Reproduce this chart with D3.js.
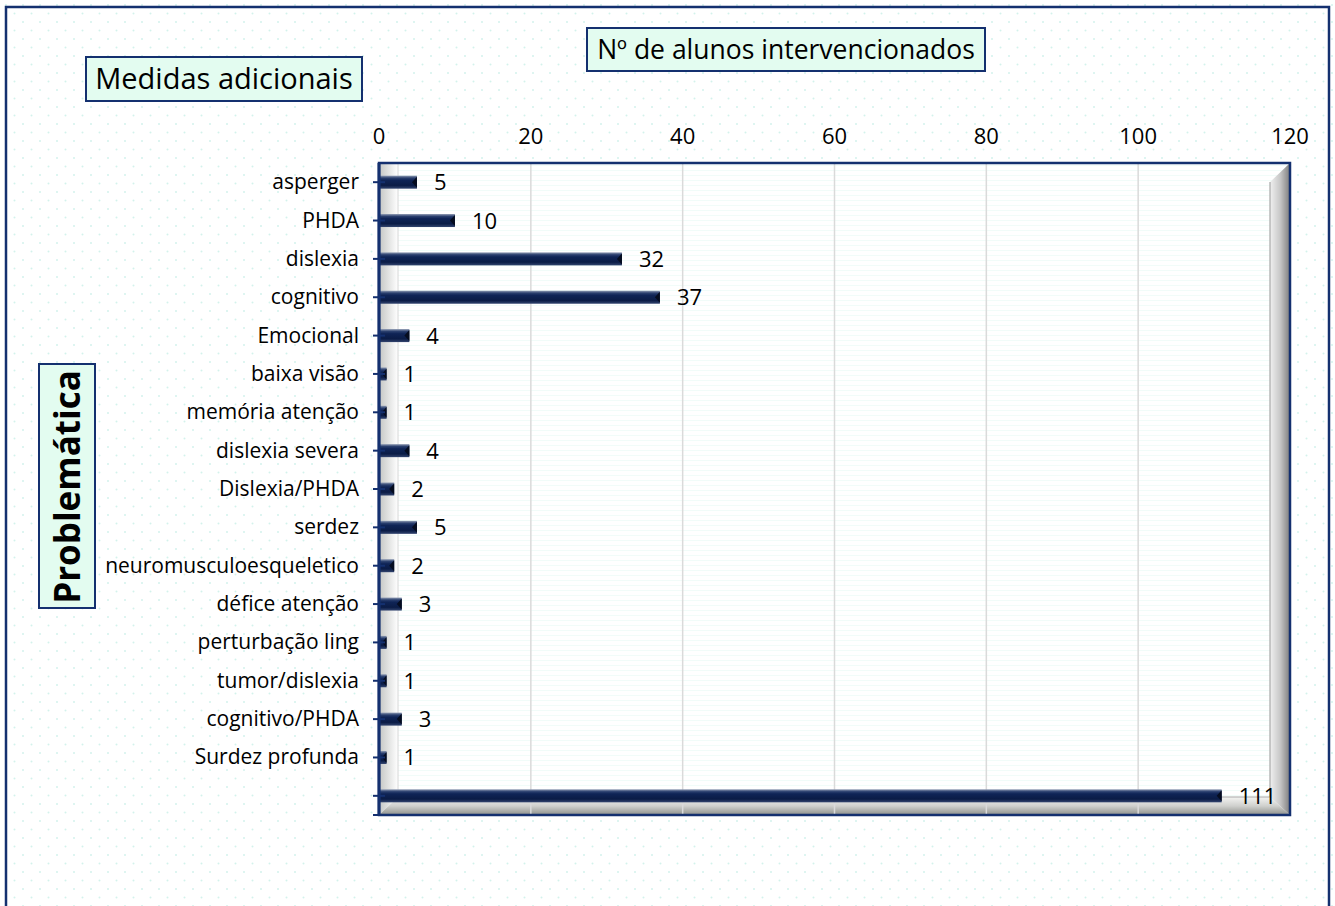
<!DOCTYPE html>
<html>
<head>
<meta charset="utf-8">
<script src="https://cdn.jsdelivr.net/npm/d3@7"></script>
<style>
  html, body { margin: 0; padding: 0; background: #fff; }
  svg { display: block; }
  text { font-family: "Open Sans", Lato, sans-serif; fill: #000; }
</style>
</head>
<body>
<svg id="chart" width="1335" height="906"></svg>
<script>
// Problem types and number of students receiving additional measures
const categories = [
  "asperger", "PHDA", "dislexia", "cognitivo", "Emocional", "baixa visão",
  "memória atenção", "dislexia severa", "Dislexia/PHDA", "serdez",
  "neuromusculoesqueletico", "défice atenção", "perturbação ling",
  "tumor/dislexia", "cognitivo/PHDA", "Surdez profunda", ""
];
const values = [5, 10, 32, 37, 4, 1, 1, 4, 2, 5, 2, 3, 1, 1, 3, 1, 111];
const xTicks = [0, 20, 40, 60, 80, 100, 120];

const chartTitle = "Nº de alunos intervencionados";
const subTitle = "Medidas adicionais";
const axisTitle = "Problemática";

const svg = d3.select("#chart");
const W = 1335, H = 906;
const navy = "#14306f";

// plot frame and 3-D depth
const plot = { left: 379, top: 163, right: 1290, bottom: 815 };
const depthX = 19, depthY = 18;

const x = d3.scaleLinear().domain([0, 120]).range([plot.left, plot.right]);
const y = d3.scaleBand().domain(d3.range(categories.length))
  .range([plot.top, plot.bottom]).paddingInner(0).paddingOuter(0);
const cy = i => y(i) + y.bandwidth() / 2;
const barH = 13;

const defs = svg.append("defs");

// staggered dot background
const dots = defs.append("pattern").attr("id", "dots")
  .attr("patternUnits", "userSpaceOnUse").attr("width", 17).attr("height", 17);
dots.append("circle").attr("cx", 6).attr("cy", 5).attr("r", 1).attr("fill", "#d3f2ec");
dots.append("circle").attr("cx", 14.5).attr("cy", 13.5).attr("r", 1).attr("fill", "#d3f2ec");

// faint horizontal lines inside the plot
const stripes = defs.append("pattern").attr("id", "stripes")
  .attr("patternUnits", "userSpaceOnUse").attr("width", 8).attr("height", 5);
stripes.append("rect").attr("width", 8).attr("height", 1).attr("fill", "#f1fcf9");

function linGrad(id, x1, y1, x2, y2, stops) {
  const g = defs.append("linearGradient").attr("id", id)
    .attr("x1", x1).attr("y1", y1).attr("x2", x2).attr("y2", y2);
  stops.forEach(([o, c]) => g.append("stop").attr("offset", o).attr("stop-color", c));
}
linGrad("barGrad", 0, 0, 0, 1, [
  [0, "#8f9bb3"], [0.18, "#2a3f6e"], [0.35, "#0f2456"], [0.75, "#0b1c46"], [1, "#33456f"]
]);
linGrad("leftWall", 0, 0, 1, 0, [[0, "#c4c6c4"], [1, "#ffffff"]]);
linGrad("floorGrad", 0, 0, 0, 1, [[0, "#f4f4f2"], [0.5, "#cfd0cd"], [1, "#8e908c"]]);
linGrad("rightWall", 0, 0, 1, 0, [[0, "#f0f0f0"], [0.5, "#c8c8c8"], [1, "#7d7d7d"]]);

// background
svg.append("rect").attr("width", W).attr("height", H).attr("fill", "#fff");
svg.append("rect").attr("width", W).attr("height", H).attr("fill", "url(#dots)");

// outer chart border
svg.append("rect").attr("x", 6).attr("y", 7).attr("width", 1323).attr("height", 1000)
  .attr("fill", "none").attr("stroke", navy).attr("stroke-width", 2.5);

// plot area
svg.append("rect").attr("x", plot.left).attr("y", plot.top)
  .attr("width", plot.right - plot.left).attr("height", plot.bottom - plot.top)
  .attr("fill", "#fff");
svg.append("rect").attr("x", plot.left).attr("y", plot.top)
  .attr("width", plot.right - plot.left).attr("height", plot.bottom - plot.top)
  .attr("fill", "url(#stripes)");

// left wall
svg.append("polygon")
  .attr("points", [[plot.left, plot.top], [plot.left + depthX, plot.top], [plot.left + depthX, plot.bottom - depthY], [plot.left, plot.bottom]].join(" "))
  .attr("fill", "url(#leftWall)");

// floor
svg.append("polygon")
  .attr("points", [[plot.left, plot.bottom], [plot.left + depthX, plot.bottom - depthY], [plot.right - depthX - 1, plot.bottom - depthY], [plot.right, plot.bottom]].join(" "))
  .attr("fill", "url(#floorGrad)");

// right wall
svg.append("polygon")
  .attr("points", [[plot.right - depthX - 1, plot.top + depthY + 1], [plot.right, plot.top], [plot.right, plot.bottom], [plot.right - depthX - 1, plot.bottom - depthY]].join(" "))
  .attr("fill", "url(#rightWall)");

// gridlines
svg.append("g").selectAll("line").data(xTicks.slice(1, -1)).join("line")
  .attr("x1", d => x(d)).attr("x2", d => x(d))
  .attr("y1", plot.top).attr("y2", plot.bottom)
  .attr("stroke", "#dadada").attr("stroke-width", 1.5);
svg.append("line")
  .attr("x1", plot.left + depthX).attr("x2", plot.left + depthX)
  .attr("y1", plot.top).attr("y2", plot.bottom - depthY)
  .attr("stroke", "#d6d6d6").attr("stroke-width", 1);

// back-wall edges
svg.append("polyline")
  .attr("points", [[plot.right - depthX - 1, plot.top + depthY + 1], [plot.right - depthX - 1, plot.bottom - depthY], [plot.left + depthX, plot.bottom - depthY]].join(" "))
  .attr("fill", "none").attr("stroke", "#a8a8a8").attr("stroke-width", 1.2);

// bars
const bars = svg.append("g");
bars.selectAll("rect").data(values).join("rect")
  .attr("x", x(0)).attr("y", (d, i) => cy(i) - barH / 2)
  .attr("width", d => x(d) - x(0)).attr("height", barH)
  .attr("fill", "url(#barGrad)");
bars.selectAll("polygon").data(values).join("polygon")
  .attr("points", (d, i) => {
    const xe = x(d), c = cy(i), w = Math.min(5, (x(d) - x(0)) * 0.6);
    return [[xe, c - barH / 2 + 1], [xe, c + barH / 2 - 1], [xe - w, c]].join(" ");
  })
  .attr("fill", "#050c1f");

// value labels
svg.append("g").selectAll("text").data(values).join("text")
  .attr("x", d => x(d) + 17).attr("y", (d, i) => cy(i) + 8)
  .attr("font-size", 22).text(d => d);

// plot frame
svg.append("rect").attr("x", plot.left).attr("y", plot.top)
  .attr("width", plot.right - plot.left).attr("height", plot.bottom - plot.top)
  .attr("fill", "none").attr("stroke", navy).attr("stroke-width", 2.5);

// category axis
const yAxis = svg.append("g");
yAxis.append("line").attr("x1", plot.left).attr("x2", plot.left)
  .attr("y1", plot.top).attr("y2", plot.bottom)
  .attr("stroke", navy).attr("stroke-width", 3);
yAxis.selectAll("line.tick").data(categories).join("line").attr("class", "tick")
  .attr("x1", plot.left - 6).attr("x2", plot.left + 6)
  .attr("y1", (d, i) => cy(i)).attr("y2", (d, i) => cy(i))
  .attr("stroke", navy).attr("stroke-width", 2);
yAxis.append("line").attr("x1", plot.left - 6).attr("x2", plot.left)
  .attr("y1", plot.bottom).attr("y2", plot.bottom)
  .attr("stroke", navy).attr("stroke-width", 2);
yAxis.selectAll("text").data(categories).join("text")
  .attr("x", plot.left - 20).attr("y", (d, i) => cy(i) + 7)
  .attr("text-anchor", "end").attr("font-size", 21).text(d => d);

// value axis labels along the top
svg.append("g").selectAll("text").data(xTicks).join("text")
  .attr("x", d => x(d)).attr("y", 144)
  .attr("text-anchor", "middle").attr("font-size", 22).text(d => d);

// title boxes
function labelBox(bx, by, bw, bh) {
  svg.append("rect").attr("x", bx).attr("y", by).attr("width", bw).attr("height", bh)
    .attr("fill", "#e3fcf0").attr("stroke", navy).attr("stroke-width", 2);
}
labelBox(587, 28, 398, 43);
svg.append("text").attr("x", 786).attr("y", 59).attr("text-anchor", "middle")
  .attr("font-size", 26.5).text(chartTitle);

labelBox(86, 57, 276, 44);
svg.append("text").attr("x", 224).attr("y", 89).attr("text-anchor", "middle")
  .attr("font-size", 29).text(subTitle);

labelBox(39, 364, 56, 244);
svg.append("text").attr("transform", "translate(80,487) rotate(-90)")
  .attr("text-anchor", "middle").attr("font-size", 35).attr("font-weight", "bold")
  .text(axisTitle);
</script>
</body>
</html>
